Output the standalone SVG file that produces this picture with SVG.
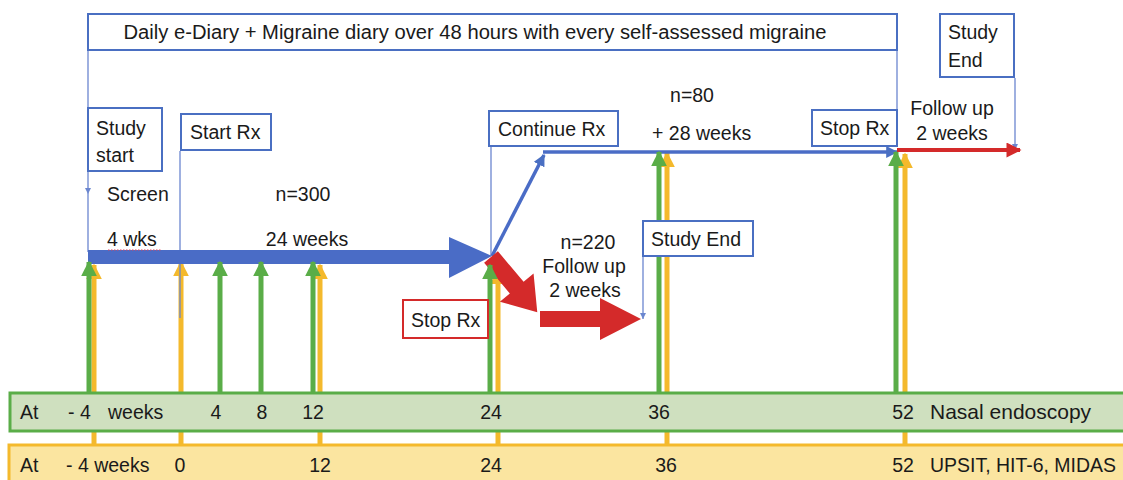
<svg xmlns="http://www.w3.org/2000/svg" width="1123" height="480" viewBox="0 0 1123 480">
<style>
  text { font-family: "Liberation Sans", Arial, sans-serif; font-size: 19.5px; fill: #1a1a1a; }
  .box { fill: #ffffff; stroke: #4a6fc2; stroke-width: 2; }
  .thin { stroke: #6b86cf; stroke-width: 1.3; fill: none; }
  .g { stroke: #5aad48; stroke-width: 5; fill: none; }
  .y { stroke: #f4b92c; stroke-width: 5; fill: none; }
</style>
<defs>
  <marker id="ah-thin" viewBox="0 0 10 10" refX="10" refY="5" markerWidth="6" markerHeight="6" markerUnits="userSpaceOnUse" orient="auto">
    <path d="M0,0 L10,5 L0,10 z" fill="#6b86cf"/>
  </marker>
  <marker id="ah-g" viewBox="0 0 10 10" refX="9" refY="5" markerWidth="16" markerHeight="17" markerUnits="userSpaceOnUse" orient="auto">
    <path d="M0,0 L10,5 L0,10 z" fill="#5aad48"/>
  </marker>
  <marker id="ah-y" viewBox="0 0 10 10" refX="9" refY="5" markerWidth="16" markerHeight="17" markerUnits="userSpaceOnUse" orient="auto">
    <path d="M0,0 L10,5 L0,10 z" fill="#f4b92c"/>
  </marker>
  <marker id="ah-b" viewBox="0 0 10 10" refX="9" refY="5" markerWidth="12" markerHeight="12" markerUnits="userSpaceOnUse" orient="auto">
    <path d="M0,0 L10,5 L0,10 z" fill="#4a6fc2"/>
  </marker>
  <marker id="ah-r" viewBox="0 0 10 10" refX="9" refY="5" markerWidth="20" markerHeight="15" markerUnits="userSpaceOnUse" orient="auto">
    <path d="M0,0 L10,5 L0,10 z" fill="#d42a2a"/>
  </marker>
</defs>

<!-- bottom bands -->
<g id="band-upsit">
  <rect x="9" y="445" width="1130" height="45" fill="#fbe5a0" stroke="#f4b92c" stroke-width="3"/>
  <text x="20" y="472">At</text>
  <text x="66" y="472">- 4 weeks</text>
  <text x="180" y="472" text-anchor="middle">0</text>
  <text x="320" y="472" text-anchor="middle">12</text>
  <text x="491" y="472" text-anchor="middle">24</text>
  <text x="666" y="472" text-anchor="middle">36</text>
  <text x="903" y="472" text-anchor="middle">52</text>
  <text x="930" y="472" textLength="186" lengthAdjust="spacingAndGlyphs">UPSIT, HIT-6, MIDAS</text>
</g>

<g id="connectors">
  <!-- yellow arrows from UPSIT band -->
  <path class="y" d="M94,444 V265" marker-end="url(#ah-y)"/>
  <path class="y" d="M181,444 V262" marker-end="url(#ah-y)"/>
  <path class="y" d="M320,444 V265" marker-end="url(#ah-y)"/>
  <path class="y" d="M498,444 V270" marker-end="url(#ah-y)"/>
  <path class="y" d="M667,444 V153" marker-end="url(#ah-y)"/>
  <path class="y" d="M905,444 V154" marker-end="url(#ah-y)"/>
</g>

<g id="band-nasal">
  <rect x="10" y="393" width="1130" height="38" fill="#cfe0bf" stroke="#5aad48" stroke-width="3"/>
  <text x="20" y="419">At</text>
  <text x="68" y="419">- 4</text>
  <text x="108" y="419">weeks</text>
  <text x="216" y="419" text-anchor="middle">4</text>
  <text x="262" y="419" text-anchor="middle">8</text>
  <text x="313" y="419" text-anchor="middle">12</text>
  <text x="491" y="419" text-anchor="middle">24</text>
  <text x="659" y="419" text-anchor="middle">36</text>
  <text x="903" y="419" text-anchor="middle">52</text>
  <text x="930" y="419" style="font-size:21px">Nasal endoscopy</text>
</g>

<g id="connectors-main">
  <!-- thin guide lines -->
  <path class="thin" d="M88,50 V194" marker-end="url(#ah-thin)"/>
  <path class="thin" d="M88,194 V252"/>
  <path class="thin" d="M180,151 V318"/>
  <path class="thin" d="M491,147 V256"/>
  <path class="thin" d="M897,50 V110"/>
  <path class="thin" d="M1015,78 V150" marker-end="url(#ah-thin)"/>
  <path class="thin" d="M643,256 V319" marker-end="url(#ah-thin)"/>

  <!-- main blue bar with arrow -->
  <polygon points="88,250 449,250 449,237 492,256 449,278 449,264 88,264" fill="#4a6cc6"/>
  <!-- continue branch -->
  <path d="M492,256 L544,155" stroke="#4a6cc6" stroke-width="3.5" fill="none" marker-end="url(#ah-b)"/>
  <path d="M543,152 H897" stroke="#4a6cc6" stroke-width="3.5" fill="none" marker-end="url(#ah-b)"/>
  <!-- follow-up red line top -->
  <path d="M897,150 H1020" stroke="#d42a2a" stroke-width="4" fill="none" marker-end="url(#ah-r)"/>

  <!-- red stop branch -->
  <polygon transform="translate(491,257) rotate(50)" points="0,-9 40,-9 40,-22 72,0 40,22 40,9 0,9" fill="#d42a2a"/>
  <polygon points="540,311 600,311 600,298 641,319 600,340 600,327 540,327" fill="#d42a2a"/>

  <!-- green arrows from Nasal band -->
  <path class="g" d="M89,392 V262" marker-end="url(#ah-g)"/>
  <path class="g" d="M220,392 V262" marker-end="url(#ah-g)"/>
  <path class="g" d="M261,392 V262" marker-end="url(#ah-g)"/>
  <path class="g" d="M313,392 V262" marker-end="url(#ah-g)"/>
  <path class="g" d="M490,392 V265" marker-end="url(#ah-g)"/>
  <path class="g" d="M659,392 V152" marker-end="url(#ah-g)"/>
  <path class="g" d="M896,392 V152" marker-end="url(#ah-g)"/>
</g>

<g id="diary">
  <rect class="box" x="88" y="14" width="809" height="36" stroke-width="3"/>
  <text x="475" y="39" text-anchor="middle" textLength="703" lengthAdjust="spacingAndGlyphs">Daily e-Diary + Migraine diary over 48 hours with every self-assessed migraine</text>
</g>

<g id="study-start">
  <rect class="box" x="88" y="108" width="74" height="63"/>
  <text x="96" y="135">Study</text>
  <text x="96" y="162">start</text>
</g>

<g id="start-rx">
  <rect class="box" x="181" y="114" width="90" height="36"/>
  <text x="190" y="139">Start Rx</text>
</g>

<g id="screen-labels">
  <text x="107" y="201">Screen</text>
  <text x="107" y="246">4 wks</text>
  <path d="M108,250 H161" stroke="#e0405a" stroke-width="1" stroke-dasharray="1.5,1.5"/>
  <text x="303" y="201" text-anchor="middle">n=300</text>
  <text x="307" y="246" text-anchor="middle">24 weeks</text>
</g>

<g id="continue-rx">
  <rect class="box" x="489" y="111" width="129" height="35"/>
  <text x="498" y="136">Continue Rx</text>
</g>

<g id="n80-labels">
  <text x="692" y="102" text-anchor="middle">n=80</text>
  <text x="652" y="140">+  28 weeks</text>
</g>

<g id="stop-rx-top">
  <rect class="box" x="812" y="110" width="85" height="36"/>
  <text x="820" y="135">Stop Rx</text>
</g>

<g id="study-end-top">
  <rect class="box" x="940" y="14" width="74" height="63"/>
  <text x="948" y="39">Study</text>
  <text x="948" y="67">End</text>
</g>

<g id="followup-top">
  <text x="952" y="115" text-anchor="middle">Follow up</text>
  <text x="952" y="140" text-anchor="middle">2 weeks</text>
</g>

<g id="stop-rx-red">
  <rect x="403" y="300" width="85" height="38" fill="#ffffff" stroke="#d42a2a" stroke-width="2"/>
  <text x="411" y="327">Stop Rx</text>
</g>

<g id="n220-labels">
  <text x="588" y="249" text-anchor="middle">n=220</text>
  <text x="584" y="273" text-anchor="middle">Follow up</text>
  <text x="585" y="297" text-anchor="middle">2 weeks</text>
</g>

<g id="study-end-mid">
  <rect class="box" x="643" y="221" width="110" height="35"/>
  <text x="651" y="246">Study End</text>
</g>
</svg>
